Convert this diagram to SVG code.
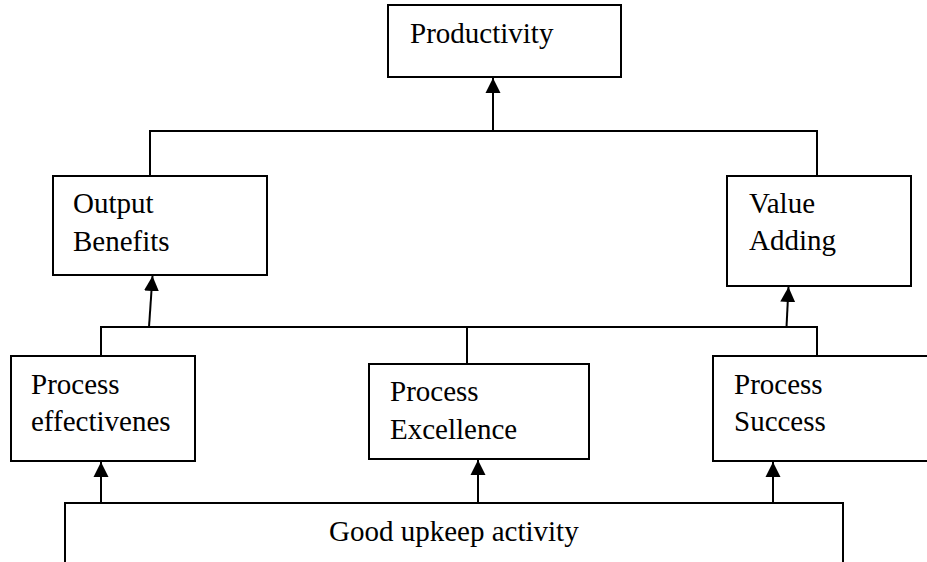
<svg xmlns="http://www.w3.org/2000/svg" width="927" height="562" viewBox="0 0 927 562">
<style>
.box{fill:#fff;stroke:#000;stroke-width:2}
.ln{fill:none;stroke:#000;stroke-width:2}
</style>
<defs>
<marker id="ah" markerUnits="userSpaceOnUse" markerWidth="16" markerHeight="16" viewBox="0 0 16 16" refX="15" refY="8" orient="auto">
<path d="M0,0.5 L15,8 L0,15.5 Z" fill="#000"/>
</marker>
</defs>
<rect width="927" height="562" fill="#fff"/>
<g id="connectors">
<path class="ln" d="M150,176 V131 H817 V176"/>
<path class="ln" d="M493,131 V78" marker-end="url(#ah)"/>
<path class="ln" d="M101,356 V327 H817 V356"/>
<path class="ln" d="M467,327 V364"/>
<path class="ln" d="M149,327 L152.5,276" marker-end="url(#ah)"/>
<path class="ln" d="M786.5,327 L788.5,287" marker-end="url(#ah)"/>
<path class="ln" d="M101,503 V462" marker-end="url(#ah)"/>
<path class="ln" d="M478,503 V460" marker-end="url(#ah)"/>
<path class="ln" d="M773,503 V462" marker-end="url(#ah)"/>
</g>
<g font-family="Liberation Serif, Times New Roman, serif" font-size="29" fill="#000">
<g id="productivity">
<rect class="box" x="388" y="5" width="233" height="72"/>
<text x="410" y="43">Productivity</text>
</g>
<g id="output-benefits">
<rect class="box" x="53" y="176" width="214" height="99"/>
<text x="73" y="213">Output</text>
<text x="73" y="251">Benefits</text>
</g>
<g id="value-adding">
<rect class="box" x="727" y="176" width="184" height="110"/>
<text x="749" y="213">Value</text>
<text x="749" y="250">Adding</text>
</g>
<g id="process-effectivenes">
<rect class="box" x="11" y="356" width="184" height="105"/>
<text x="31" y="394">Process</text>
<text x="31" y="431">effectivenes</text>
</g>
<g id="process-excellence">
<rect class="box" x="369" y="364" width="220" height="95"/>
<text x="390" y="401">Process</text>
<text x="390" y="439">Excellence</text>
</g>
<g id="process-success">
<rect class="box" x="713" y="356" width="230" height="105"/>
<text x="734" y="394">Process</text>
<text x="734" y="431">Success</text>
</g>
<g id="good-upkeep">
<path class="box" d="M65,570 V503 H843 V570"/>
<text x="329" y="541">Good upkeep activity</text>
</g>
</g>
</svg>
